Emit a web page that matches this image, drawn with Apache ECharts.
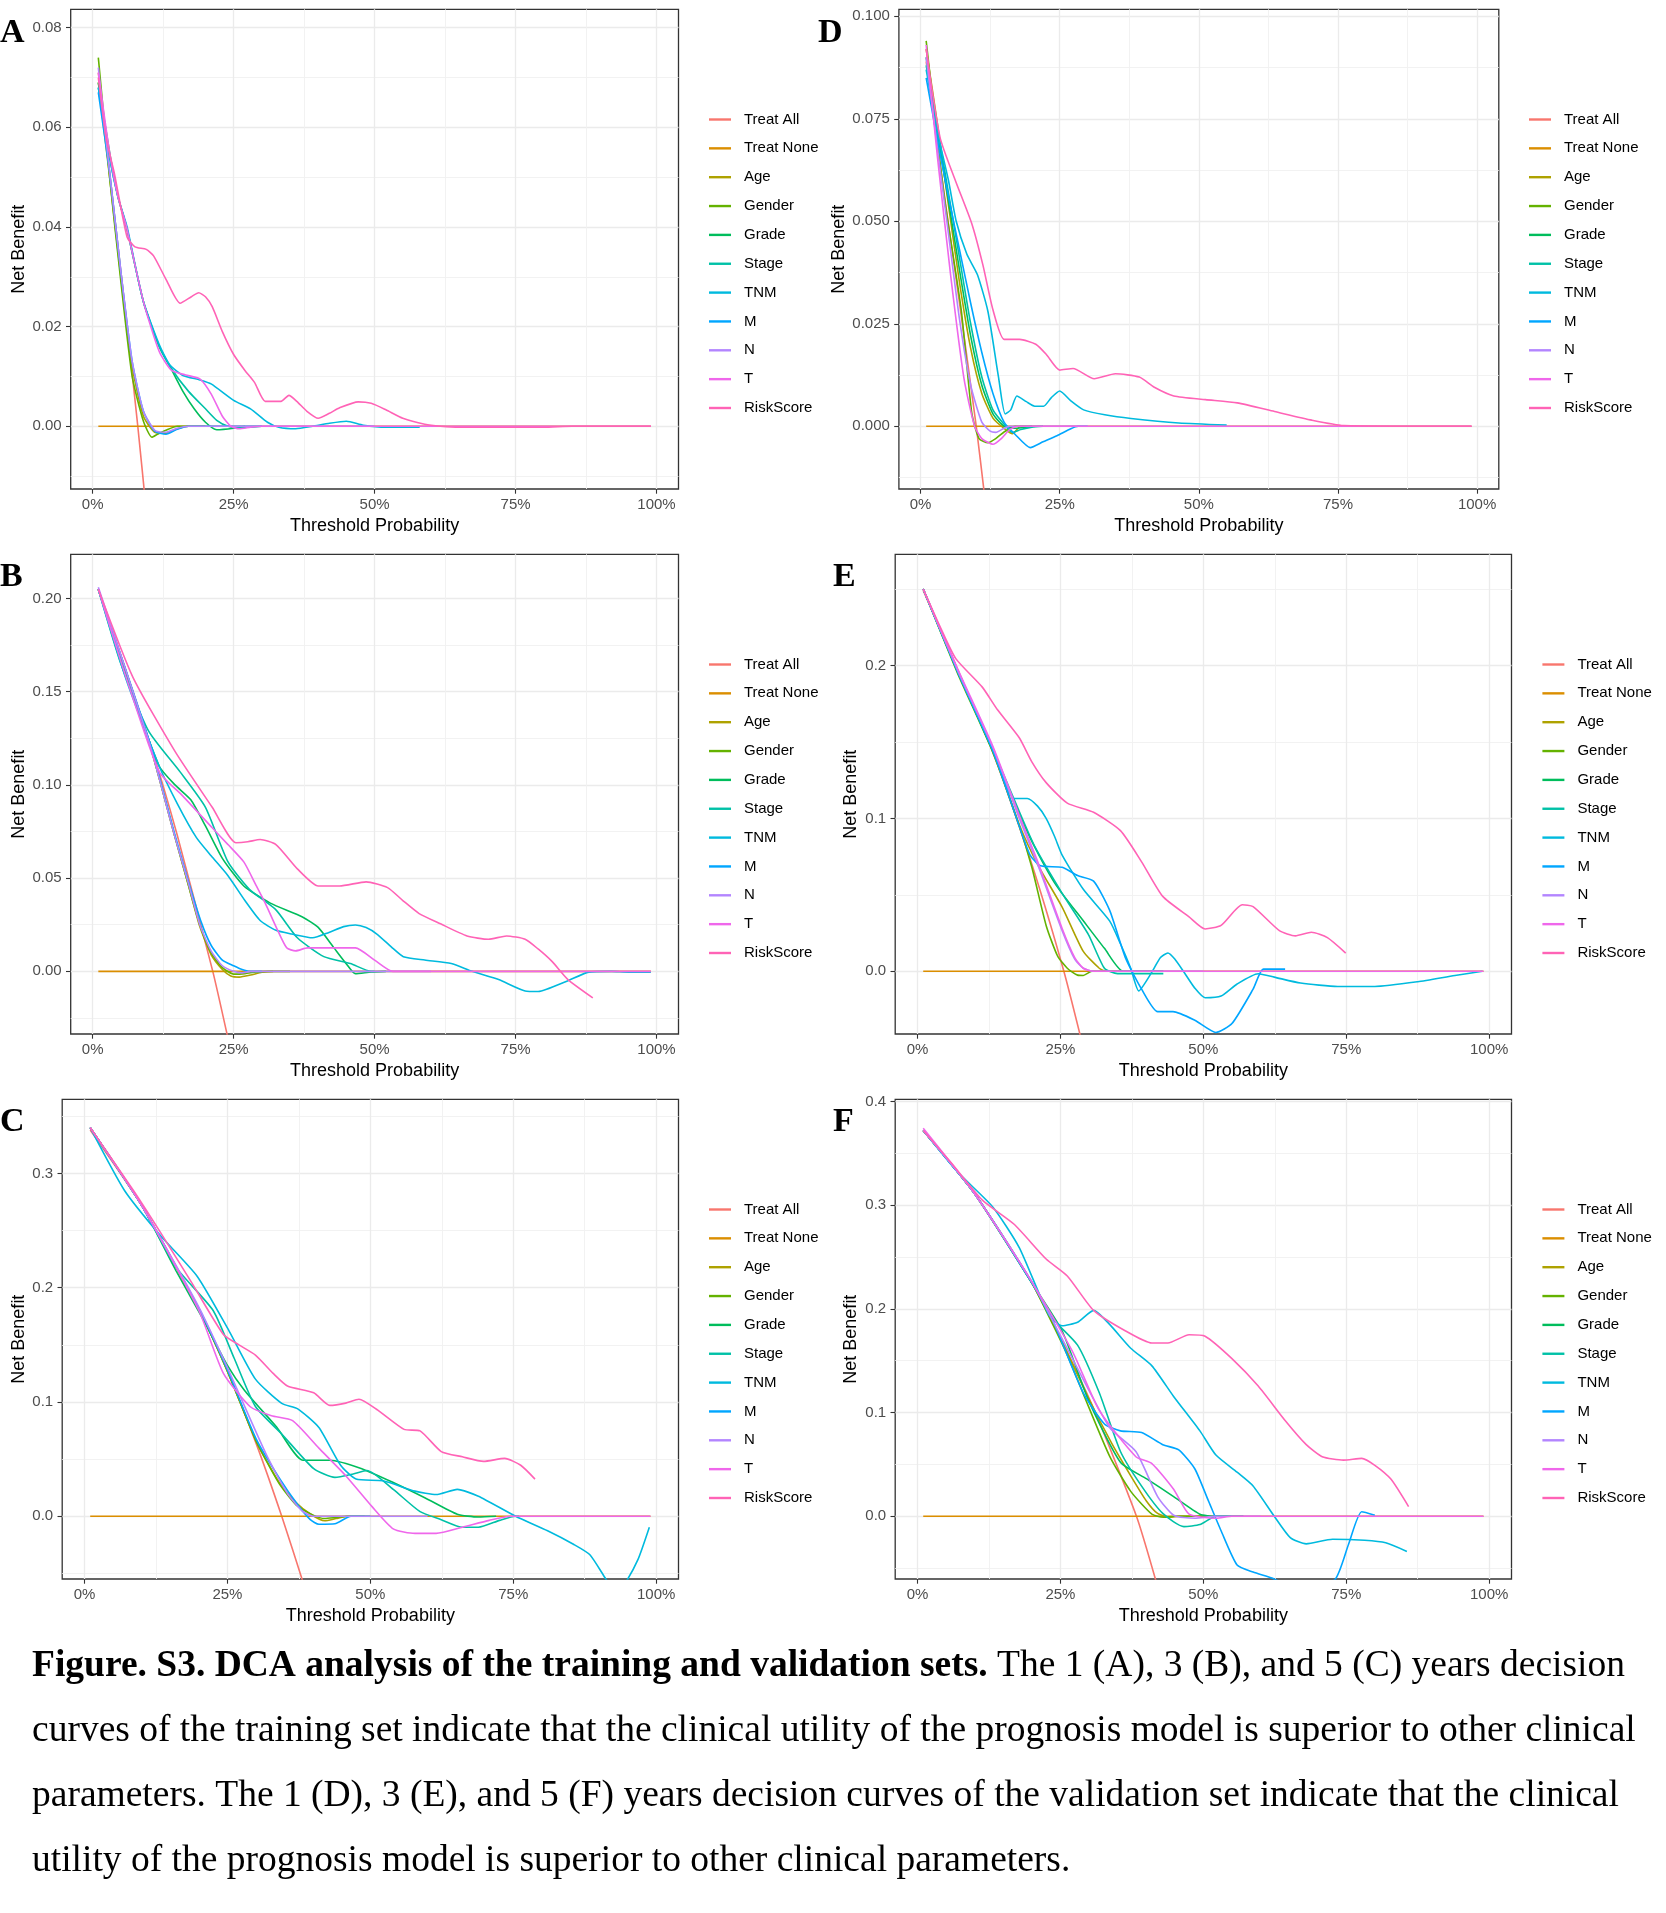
<!DOCTYPE html>
<html>
<head>
<meta charset="utf-8">
<title>Figure S3 - DCA analysis</title>
<script src="https://cdn.jsdelivr.net/npm/echarts@6.0.0/dist/echarts.min.js"></script>
<style>
html, body { margin: 0; padding: 0; background: #fff; }
#chart { width: 1666px; height: 1913px; }
</style>
</head>
<body>
<div id="chart"></div>
<script>
var seriesNames = ['Treat All', 'Treat None', 'Age', 'Gender', 'Grade', 'Stage', 'TNM', 'M', 'N', 'T', 'RiskScore'];
var seriesColors = ['#F8766D', '#DB8E00', '#AEA200', '#64B200', '#00BD5C', '#00C1A7', '#00BADE', '#00A6FF', '#B385FF', '#EF67EB', '#FF63B6'];

var xTicks = [0, 0.25, 0.5, 0.75, 1];
var xMinor = [0.125, 0.375, 0.625, 0.875];
var xRange = [-0.039, 1.039];
var treatNone = [[0.01, 0], [0.99, 0]];

// ---- A : training set, 1 year
var aYRange = [-0.0126, 0.0837];
var aYTicks = [0, 0.02, 0.04, 0.06, 0.08];
var aYMinor = [-0.01, 0.01, 0.03, 0.05, 0.07];
var aTreatAll = [[0.01, 0.071], [0.04, 0.041], [0.06, 0.021], [0.08, 0.0], [0.095, -0.017]];
var aAge = [[0.01, 0.069], [0.03, 0.050], [0.05, 0.030], [0.07, 0.012], [0.09, 0.002], [0.11, -0.0012], [0.13, -0.0014], [0.15, -0.0005], [0.17, 0], [0.2, 0]];
var aGender = [[0.01, 0.074], [0.03, 0.050], [0.05, 0.029], [0.07, 0.010], [0.09, 0.001], [0.105, -0.0022], [0.115, -0.0016], [0.13, -0.0008], [0.15, 0], [0.2, 0]];
var aGrade = [[0.01, 0.069], [0.03, 0.055], [0.045, 0.046], [0.06, 0.040], [0.09, 0.025], [0.118, 0.016], [0.137, 0.012], [0.16, 0.007], [0.18, 0.0035], [0.2, 0.0008], [0.22, -0.0007], [0.25, -0.0004], [0.27, 0]];
var aStage = [[0.01, 0.068], [0.03, 0.054], [0.045, 0.046], [0.06, 0.040], [0.09, 0.025], [0.118, 0.016], [0.14, 0.0115], [0.17, 0.007], [0.2, 0.0035], [0.22, 0.0012], [0.24, 0], [0.26, -0.0003], [0.3, 0]];
var aTnm = [[0.01, 0.068], [0.03, 0.054], [0.045, 0.046], [0.061, 0.040], [0.089, 0.0254], [0.118, 0.0164], [0.137, 0.0123], [0.16, 0.0102], [0.19, 0.0093], [0.21, 0.0085], [0.25, 0.0052], [0.28, 0.0035], [0.31, 0.0008], [0.33, -0.0002], [0.36, -0.0005], [0.39, 0], [0.42, 0.0006], [0.45, 0.001], [0.48, 0.0002], [0.52, -0.0002], [0.58, -0.0002]];
var aM = [[0.01, 0.067], [0.03, 0.051], [0.05, 0.031], [0.07, 0.013], [0.09, 0.003], [0.11, -0.001], [0.13, -0.0016], [0.15, -0.0006], [0.17, 0], [0.3, 0]];
var aN = [[0.01, 0.072], [0.03, 0.051], [0.05, 0.031], [0.07, 0.013], [0.09, 0.003], [0.11, -0.0008], [0.13, -0.0012], [0.15, -0.0004], [0.17, 0], [0.5, 0]];
var aT = [[0.01, 0.071], [0.03, 0.055], [0.045, 0.046], [0.06, 0.040], [0.09, 0.025], [0.118, 0.015], [0.14, 0.0112], [0.165, 0.0103], [0.19, 0.0095], [0.21, 0.0065], [0.23, 0.002], [0.245, 0], [0.26, -0.0005], [0.28, -0.0002], [0.3, 0], [0.99, 0]];
var aRiskScore = [[0.01, 0.070], [0.0235, 0.058], [0.038, 0.051], [0.061, 0.038], [0.075, 0.036], [0.095, 0.0355], [0.108, 0.0342], [0.13, 0.0295], [0.155, 0.0247], [0.175, 0.026], [0.188, 0.0268], [0.2, 0.026], [0.212, 0.024], [0.23, 0.019], [0.25, 0.0144], [0.27, 0.0112], [0.287, 0.0088], [0.306, 0.005], [0.334, 0.005], [0.348, 0.0062], [0.362, 0.005], [0.38, 0.003], [0.4, 0.0016], [0.42, 0.0026], [0.438, 0.0037], [0.471, 0.0049], [0.494, 0.0046], [0.52, 0.0033], [0.55, 0.0016], [0.589, 0.0004], [0.617, 0], [0.65, -0.0002], [0.8, -0.0002], [0.85, 0], [0.99, 0]];

// ---- B : training set, 3 years
var bYRange = [-0.0336, 0.2237];
var bYTicks = [0, 0.05, 0.10, 0.15, 0.20];
var bYMinor = [-0.025, 0.025, 0.075, 0.125, 0.175];
var bTreatAll = [[0.01, 0.205], [0.1, 0.124], [0.15, 0.073], [0.213, 0], [0.24, -0.036]];
var bAge = [[0.01, 0.205], [0.1, 0.123], [0.146, 0.072], [0.17, 0.046], [0.19, 0.024], [0.21, 0.009], [0.23, 0.001], [0.245, -0.0025], [0.26, -0.0031], [0.28, -0.002], [0.3, -0.0005], [0.32, 0]];
var bGender = [[0.01, 0.205], [0.1, 0.123], [0.146, 0.072], [0.17, 0.046], [0.19, 0.025], [0.21, 0.01], [0.23, 0.002], [0.25, -0.0015], [0.27, -0.0012], [0.29, -0.0003], [0.31, 0], [0.35, 0]];
var bGrade = [[0.01, 0.205], [0.06, 0.158], [0.118, 0.11], [0.146, 0.1], [0.174, 0.092], [0.2, 0.078], [0.23, 0.0606], [0.268, 0.0458], [0.315, 0.0366], [0.372, 0.0292], [0.4, 0.0236], [0.428, 0.0126], [0.45, 0.004], [0.466, -0.0013], [0.494, -0.0003], [0.52, 0]];
var bStage = [[0.01, 0.205], [0.05, 0.165], [0.099, 0.129], [0.155, 0.107], [0.2, 0.088], [0.24, 0.0587], [0.278, 0.044], [0.325, 0.033], [0.363, 0.018], [0.41, 0.0079], [0.457, 0.0042], [0.494, 0], [0.5, 0]];
var bTnm = [[0.01, 0.205], [0.06, 0.156], [0.118, 0.11], [0.15, 0.09], [0.184, 0.0717], [0.21, 0.062], [0.24, 0.0513], [0.27, 0.038], [0.297, 0.0273], [0.325, 0.022], [0.353, 0.02], [0.39, 0.018], [0.419, 0.0209], [0.445, 0.024], [0.466, 0.0249], [0.485, 0.0235], [0.504, 0.02], [0.53, 0.013], [0.551, 0.0079], [0.589, 0.0061], [0.636, 0.0042], [0.673, 0], [0.72, -0.0044], [0.767, -0.0105], [0.79, -0.0108], [0.805, -0.0096], [0.843, -0.005], [0.88, -0.0004], [0.92, 0], [0.95, -0.0004], [0.99, -0.0004]];
var bM = [[0.01, 0.205], [0.1, 0.124], [0.146, 0.073], [0.17, 0.048], [0.193, 0.026], [0.21, 0.014], [0.23, 0.006], [0.25, 0.003], [0.265, 0.001], [0.278, 0], [0.3, 0]];
var bN = [[0.01, 0.206], [0.1, 0.123], [0.146, 0.072], [0.17, 0.047], [0.19, 0.025], [0.21, 0.011], [0.23, 0.003], [0.25, 0], [0.265, -0.0008], [0.28, 0], [0.6, 0]];
var bT = [[0.01, 0.205], [0.06, 0.157], [0.118, 0.107], [0.16, 0.094], [0.212, 0.077], [0.24, 0.068], [0.268, 0.0587], [0.29, 0.046], [0.306, 0.0366], [0.325, 0.024], [0.344, 0.0126], [0.36, 0.011], [0.381, 0.0126], [0.466, 0.0126], [0.5, 0.006], [0.532, 0], [0.99, 0]];
var bRiskScore = [[0.01, 0.205], [0.071, 0.158], [0.146, 0.118], [0.212, 0.088], [0.254, 0.069], [0.275, 0.0695], [0.297, 0.0707], [0.325, 0.068], [0.363, 0.055], [0.4, 0.0458], [0.438, 0.0458], [0.485, 0.048], [0.523, 0.0449], [0.55, 0.038], [0.579, 0.031], [0.617, 0.0255], [0.664, 0.019], [0.702, 0.0172], [0.734, 0.019], [0.767, 0.0172], [0.79, 0.012], [0.815, 0.0052], [0.843, -0.0044], [0.887, -0.0142]];

// ---- C : training set, 5 years
var cYRange = [-0.0549, 0.3648];
var cYTicks = [0, 0.1, 0.2, 0.3];
var cYMinor = [-0.05, 0.05, 0.15, 0.25, 0.35];
var cTreatAll = [[0.01, 0.338], [0.1, 0.272], [0.2, 0.181], [0.25, 0.127], [0.3, 0.064], [0.345, 0], [0.385, -0.062]];
var cAge = [[0.01, 0.34], [0.1, 0.272], [0.2, 0.181], [0.25, 0.127], [0.3, 0.066], [0.34, 0.03], [0.37, 0.012], [0.395, 0.002], [0.42, -0.004], [0.44, -0.002], [0.46, 0], [0.5, 0]];
var cGender = [[0.01, 0.34], [0.1, 0.272], [0.2, 0.181], [0.25, 0.127], [0.3, 0.066], [0.34, 0.029], [0.37, 0.01], [0.4, 0.001], [0.42, -0.002], [0.44, -0.001], [0.46, 0], [0.49, 0]];
var cGrade = [[0.01, 0.34], [0.1, 0.272], [0.16, 0.215], [0.21, 0.17], [0.25, 0.132], [0.28, 0.11], [0.336, 0.078], [0.382, 0.049], [0.429, 0.049], [0.485, 0.0416], [0.54, 0.0295], [0.596, 0.016], [0.652, 0.0018], [0.689, -0.0006], [0.72, 0]];
var cStage = [[0.01, 0.34], [0.1, 0.272], [0.16, 0.218], [0.225, 0.18], [0.262, 0.138], [0.299, 0.096], [0.345, 0.072], [0.401, 0.0416], [0.438, 0.034], [0.47, 0.037], [0.494, 0.04], [0.54, 0.0235], [0.587, 0.004], [0.624, -0.003], [0.661, -0.0096], [0.689, -0.0096], [0.726, -0.0036], [0.754, 0], [0.76, 0]];
var cTnm = [[0.01, 0.34], [0.07, 0.285], [0.132, 0.246], [0.197, 0.21], [0.253, 0.162], [0.299, 0.12], [0.345, 0.0988], [0.373, 0.094], [0.41, 0.0777], [0.448, 0.0446], [0.475, 0.0325], [0.522, 0.031], [0.578, 0.022], [0.615, 0.019], [0.652, 0.0235], [0.689, 0.0175], [0.754, 0], [0.81, -0.0127], [0.856, -0.0247], [0.884, -0.0337], [0.912, -0.055], [0.93, -0.068], [0.944, -0.06], [0.968, -0.038], [0.988, -0.0096]];
var cM = [[0.01, 0.34], [0.1, 0.272], [0.2, 0.182], [0.25, 0.128], [0.3, 0.068], [0.34, 0.034], [0.373, 0.01], [0.395, -0.003], [0.41, -0.007], [0.438, -0.0066], [0.466, 0], [0.5, 0]];
var cN = [[0.01, 0.34], [0.1, 0.272], [0.2, 0.183], [0.25, 0.13], [0.29, 0.085], [0.32, 0.052], [0.355, 0.02], [0.38, 0.005], [0.4, 0], [0.6, 0]];
var cT = [[0.01, 0.34], [0.1, 0.272], [0.2, 0.18], [0.243, 0.125], [0.29, 0.0958], [0.327, 0.088], [0.364, 0.0837], [0.41, 0.0596], [0.457, 0.0355], [0.503, 0.0084], [0.54, -0.011], [0.578, -0.015], [0.615, -0.015], [0.661, -0.0096], [0.708, -0.0036], [0.745, 0], [0.99, 0]];
var cRiskScore = [[0.01, 0.34], [0.085, 0.2855], [0.132, 0.249], [0.188, 0.204], [0.243, 0.159], [0.27, 0.15], [0.299, 0.141], [0.33, 0.125], [0.355, 0.114], [0.401, 0.108], [0.429, 0.097], [0.457, 0.099], [0.48, 0.1024], [0.513, 0.0928], [0.559, 0.076], [0.587, 0.0747], [0.624, 0.0566], [0.661, 0.052], [0.698, 0.048], [0.735, 0.0506], [0.763, 0.0446], [0.788, 0.0325]];

// ---- D : validation set, 1 year
var dYRange = [-0.0153, 0.1017];
var dYTicks = [0, 0.025, 0.05, 0.075, 0.1];
var dYMinor = [-0.0125, 0.0125, 0.0375, 0.0625, 0.0875];
var dTreatAll = [[0.01, 0.089], [0.04, 0.059], [0.07, 0.030], [0.1, 0.0], [0.115, -0.017]];
var dAge = [[0.01, 0.092], [0.03, 0.074], [0.05, 0.054], [0.07, 0.035], [0.09, 0.019], [0.11, 0.008], [0.13, 0.002], [0.15, -0.0005], [0.165, -0.0018], [0.18, 0], [0.22, 0]];
var dGender = [[0.01, 0.094], [0.03, 0.070], [0.045, 0.0536], [0.073, 0.0284], [0.092, 0.0032], [0.105, -0.003], [0.121, -0.004], [0.135, -0.003], [0.15, -0.0014], [0.17, 0], [0.2, 0]];
var dGrade = [[0.01, 0.09], [0.03, 0.072], [0.05, 0.055], [0.07, 0.038], [0.09, 0.022], [0.11, 0.01], [0.13, 0.003], [0.15, 0], [0.17, -0.0005], [0.2, 0]];
var dStage = [[0.01, 0.088], [0.03, 0.073], [0.05, 0.057], [0.07, 0.041], [0.09, 0.025], [0.11, 0.012], [0.13, 0.004], [0.15, 0.0005], [0.165, -0.0015], [0.18, -0.0008], [0.2, -0.0002], [0.22, 0]];
var dTnm = [[0.01, 0.087], [0.03, 0.072], [0.05, 0.060], [0.064, 0.050], [0.083, 0.042], [0.102, 0.037], [0.121, 0.028], [0.14, 0.012], [0.152, 0.003], [0.162, 0.004], [0.173, 0.0074], [0.19, 0.006], [0.205, 0.0049], [0.221, 0.0049], [0.235, 0.007], [0.25, 0.0086], [0.27, 0.0062], [0.293, 0.004], [0.331, 0.0028], [0.378, 0.0019], [0.464, 0.0008], [0.55, 0.0003]];
var dM = [[0.01, 0.085], [0.03, 0.07], [0.05, 0.056], [0.07, 0.043], [0.09, 0.03], [0.11, 0.018], [0.13, 0.008], [0.15, 0.001], [0.17, -0.002], [0.197, -0.0052], [0.22, -0.0038], [0.245, -0.0023], [0.27, -0.0006], [0.283, 0], [0.3, 0]];
var dN = [[0.01, 0.09], [0.03, 0.068], [0.05, 0.047], [0.07, 0.026], [0.09, 0.01], [0.11, 0.001], [0.125, -0.0012], [0.135, -0.0015], [0.15, -0.0005], [0.16, 0], [0.3, 0]];
var dT = [[0.01, 0.093], [0.03, 0.066], [0.054, 0.0368], [0.078, 0.0116], [0.097, 0.0], [0.11, -0.003], [0.13, -0.0044], [0.145, -0.003], [0.16, -0.0008], [0.175, 0], [0.99, 0]];
var dRiskScore = [[0.01, 0.092], [0.035, 0.0704], [0.064, 0.0594], [0.092, 0.0494], [0.112, 0.0393], [0.13, 0.0284], [0.15, 0.0212], [0.178, 0.0212], [0.207, 0.02], [0.226, 0.0175], [0.25, 0.0137], [0.274, 0.0141], [0.312, 0.0116], [0.35, 0.0128], [0.393, 0.012], [0.42, 0.0095], [0.455, 0.0074], [0.512, 0.0065], [0.569, 0.0057], [0.636, 0.0036], [0.703, 0.0015], [0.76, 0.0002], [0.99, 0]];

// ---- E : validation set, 3 years
var eYRange = [-0.041, 0.2727];
var eYTicks = [0, 0.1, 0.2];
var eYMinor = [0.05, 0.15, 0.25];
var eTreatAll = [[0.01, 0.249], [0.132, 0.143], [0.2, 0.07], [0.256, 0], [0.29, -0.05]];
var eAge = [[0.01, 0.25], [0.07, 0.196], [0.132, 0.144], [0.178, 0.096], [0.21, 0.07], [0.253, 0.042], [0.29, 0.013], [0.318, 0.002], [0.33, 0], [0.36, 0]];
var eGender = [[0.01, 0.25], [0.07, 0.195], [0.132, 0.143], [0.178, 0.095], [0.2, 0.068], [0.225, 0.03], [0.245, 0.01], [0.262, 0.002], [0.28, -0.0025], [0.29, -0.0027], [0.305, 0], [0.43, 0]];
var eGrade = [[0.01, 0.25], [0.07, 0.196], [0.132, 0.144], [0.17, 0.11], [0.2, 0.085], [0.243, 0.056], [0.29, 0.033], [0.327, 0.015], [0.36, 0], [0.43, 0]];
var eStage = [[0.01, 0.25], [0.07, 0.197], [0.132, 0.145], [0.174, 0.108], [0.206, 0.081], [0.253, 0.051], [0.299, 0.024], [0.327, 0.002], [0.35, -0.0015], [0.4, -0.0015], [0.43, -0.0015]];
var eTnm = [[0.01, 0.25], [0.07, 0.197], [0.132, 0.145], [0.169, 0.113], [0.192, 0.113], [0.21, 0.108], [0.225, 0.1], [0.24, 0.088], [0.253, 0.076], [0.29, 0.0536], [0.336, 0.033], [0.355, 0.018], [0.373, 0.002], [0.387, -0.0128], [0.41, -0.0005], [0.425, 0.009], [0.438, 0.012], [0.45, 0.008], [0.466, -0.0005], [0.485, -0.011], [0.503, -0.0173], [0.531, -0.0162], [0.559, -0.0083], [0.596, -0.0016], [0.624, -0.0038], [0.67, -0.0077], [0.735, -0.0099], [0.8, -0.0099], [0.875, -0.0068], [0.94, -0.0027], [0.988, 0]];
var eM = [[0.01, 0.25], [0.07, 0.196], [0.132, 0.144], [0.178, 0.095], [0.197, 0.076], [0.215, 0.069], [0.253, 0.068], [0.28, 0.0626], [0.308, 0.059], [0.336, 0.04], [0.364, 0.0086], [0.392, -0.0117], [0.42, -0.0264], [0.447, -0.0264], [0.485, -0.032], [0.522, -0.04], [0.55, -0.0342], [0.587, -0.0117], [0.605, 0.0014], [0.643, 0.0014]];
var eN = [[0.01, 0.25], [0.07, 0.197], [0.132, 0.146], [0.178, 0.1], [0.21, 0.07], [0.253, 0.0266], [0.275, 0.008], [0.29, 0.002], [0.308, 0], [0.5, 0]];
var eT = [[0.01, 0.25], [0.07, 0.198], [0.132, 0.147], [0.178, 0.102], [0.21, 0.072], [0.253, 0.028], [0.275, 0.009], [0.29, 0.002], [0.308, 0], [0.99, 0]];
var eRiskScore = [[0.01, 0.25], [0.04, 0.225], [0.067, 0.2045], [0.113, 0.186], [0.14, 0.171], [0.178, 0.1527], [0.2, 0.137], [0.225, 0.1234], [0.262, 0.11], [0.308, 0.104], [0.355, 0.092], [0.392, 0.0716], [0.429, 0.049], [0.475, 0.0356], [0.503, 0.0277], [0.531, 0.03], [0.568, 0.0435], [0.587, 0.0423], [0.633, 0.0266], [0.661, 0.0232], [0.689, 0.0255], [0.717, 0.022], [0.749, 0.0119]];

// ---- F : validation set, 5 years
var fYRange = [-0.0605, 0.402];
var fYTicks = [0, 0.1, 0.2, 0.3, 0.4];
var fYMinor = [-0.05, 0.05, 0.15, 0.25, 0.35];
var fTreatAll = [[0.01, 0.372], [0.1, 0.311], [0.2, 0.225], [0.3, 0.114], [0.383, 0], [0.42, -0.068]];
var fAge = [[0.01, 0.372], [0.1, 0.311], [0.2, 0.225], [0.25, 0.172], [0.299, 0.114], [0.34, 0.07], [0.373, 0.039], [0.4, 0.015], [0.42, 0.0027], [0.44, -0.001], [0.46, 0], [0.5, 0]];
var fGender = [[0.01, 0.372], [0.1, 0.311], [0.2, 0.225], [0.225, 0.198], [0.26, 0.158], [0.29, 0.118], [0.336, 0.058], [0.373, 0.024], [0.41, 0.002], [0.43, -0.001], [0.45, 0], [0.57, 0]];
var fGrade = [[0.01, 0.372], [0.1, 0.311], [0.2, 0.225], [0.253, 0.1786], [0.299, 0.112], [0.355, 0.052], [0.401, 0.036], [0.448, 0.019], [0.494, 0.002], [0.52, 0], [0.57, 0]];
var fStage = [[0.01, 0.372], [0.1, 0.311], [0.2, 0.226], [0.234, 0.192], [0.28, 0.165], [0.318, 0.119], [0.355, 0.0624], [0.392, 0.029], [0.429, 0.0027], [0.466, -0.01], [0.494, -0.008], [0.522, 0], [0.55, 0]];
var fTnm = [[0.01, 0.372], [0.07, 0.332], [0.132, 0.298], [0.178, 0.259], [0.229, 0.195], [0.253, 0.1836], [0.28, 0.187], [0.308, 0.1985], [0.336, 0.185], [0.373, 0.162], [0.41, 0.145], [0.448, 0.1155], [0.494, 0.0823], [0.522, 0.059], [0.559, 0.0425], [0.587, 0.0292], [0.624, 0], [0.652, -0.0206], [0.68, -0.0266], [0.726, -0.0222], [0.782, -0.0232], [0.819, -0.0256], [0.856, -0.0339]];
var fM = [[0.01, 0.372], [0.1, 0.311], [0.2, 0.225], [0.234, 0.192], [0.29, 0.119], [0.327, 0.089], [0.355, 0.0823], [0.392, 0.0807], [0.429, 0.069], [0.457, 0.064], [0.485, 0.0458], [0.508, 0.016], [0.531, -0.014], [0.559, -0.047], [0.587, -0.0538], [0.624, -0.0604], [0.68, -0.075], [0.731, -0.0604], [0.754, -0.027], [0.777, 0.0043], [0.8, 0.001]];
var fN = [[0.01, 0.372], [0.1, 0.311], [0.2, 0.226], [0.271, 0.152], [0.336, 0.0856], [0.382, 0.0624], [0.42, 0.019], [0.448, 0.001], [0.485, -0.002], [0.52, 0], [0.6, 0]];
var fT = [[0.01, 0.374], [0.1, 0.311], [0.2, 0.226], [0.271, 0.159], [0.318, 0.102], [0.382, 0.0574], [0.41, 0.0508], [0.448, 0.026], [0.475, 0.002], [0.522, -0.002], [0.55, 0], [0.99, 0]];
var fRiskScore = [[0.01, 0.372], [0.06, 0.34], [0.113, 0.305], [0.169, 0.2815], [0.225, 0.248], [0.262, 0.2317], [0.308, 0.1985], [0.364, 0.1786], [0.41, 0.167], [0.438, 0.167], [0.475, 0.175], [0.503, 0.1736], [0.55, 0.152], [0.596, 0.1255], [0.643, 0.0923], [0.68, 0.069], [0.708, 0.0574], [0.745, 0.0541], [0.777, 0.0558], [0.8, 0.0491], [0.828, 0.0358], [0.859, 0.0093]];

var captionLines = [
    '{b|Figure. S3. DCA analysis of the training and validation sets.} The 1 (A), 3 (B), and 5 (C) years decision',
    'curves of the training set indicate that the clinical utility of the prognosis model is superior to other clinical',
    'parameters. The 1 (D), 3 (E), and 5 (F) years decision curves of the validation set indicate that the clinical',
    'utility of the prognosis model is superior to other clinical parameters.'
];

var sans = "'Liberation Sans', Arial, sans-serif";
var serif = "'Liberation Serif', 'Times New Roman', serif";

// 面板布局：box = [left, top, width, height]
var panels = [
    {id: 'A', lines: [aTreatAll, treatNone, aAge, aGender, aGrade, aStage, aTnm, aM, aN, aT, aRiskScore],
     yRange: aYRange, yTicks: aYTicks, yMinor: aYMinor, digits: 2,
     box: [70.7, 9.3, 607.8, 479.7], nameGap: 43, legendPos: [709, 112], letterPos: [0, 33]},
    {id: 'B', lines: [bTreatAll, treatNone, bAge, bGender, bGrade, bStage, bTnm, bM, bN, bT, bRiskScore],
     yRange: bYRange, yTicks: bYTicks, yMinor: bYMinor, digits: 2,
     box: [70.7, 554.3, 607.8, 479.7], nameGap: 43, legendPos: [709, 657], letterPos: [0, 577.5]},
    {id: 'C', lines: [cTreatAll, treatNone, cAge, cGender, cGrade, cStage, cTnm, cM, cN, cT, cRiskScore],
     yRange: cYRange, yTicks: cYTicks, yMinor: cYMinor, digits: 1,
     box: [62.2, 1099.3, 616.3, 479.7], nameGap: 34.6, legendPos: [709, 1202], letterPos: [0, 1122.5]},
    {id: 'D', lines: [dTreatAll, treatNone, dAge, dGender, dGrade, dStage, dTnm, dM, dN, dT, dRiskScore],
     yRange: dYRange, yTicks: dYTicks, yMinor: dYMinor, digits: 3,
     box: [898.9, 9.3, 599.9, 479.7], nameGap: 50, legendPos: [1529, 112], letterPos: [818, 33]},
    {id: 'E', lines: [eTreatAll, treatNone, eAge, eGender, eGrade, eStage, eTnm, eM, eN, eT, eRiskScore],
     yRange: eYRange, yTicks: eYTicks, yMinor: eYMinor, digits: 1,
     box: [895.2, 554.3, 616.3, 479.7], nameGap: 34.7, legendPos: [1542.4, 657], letterPos: [833, 577.5]},
    {id: 'F', lines: [fTreatAll, treatNone, fAge, fGender, fGrade, fStage, fTnm, fM, fN, fT, fRiskScore],
     yRange: fYRange, yTicks: fYTicks, yMinor: fYMinor, digits: 1,
     box: [895.2, 1099.3, 616.3, 479.7], nameGap: 34.7, legendPos: [1542.4, 1202], letterPos: [833, 1122.5]}
];

var grids = [], xAxes = [], yAxes = [], series = [], legends = [], graphics = [];

panels.forEach(function (p, i) {
    grids.push({
        left: p.box[0], top: p.box[1], width: p.box[2], height: p.box[3],
        show: true, borderColor: '#333333', borderWidth: 1.3, backgroundColor: 'transparent'
    });

    // 主刻度轴
    xAxes.push({
        type: 'value', gridIndex: i, min: xRange[0], max: xRange[1],
        axisLine: {show: false, onZero: false},
        axisTick: {show: true, length: 4.7, customValues: xTicks, lineStyle: {color: '#333333', width: 1.1}},
        axisLabel: {customValues: xTicks, margin: 8, color: '#4D4D4D', fontSize: 15, fontFamily: sans,
            formatter: function (v) { return Math.round(v * 100) + '%'; }},
        splitLine: {show: true, lineStyle: {color: '#EBEBEB', width: 1.3}},
        name: 'Threshold Probability', nameLocation: 'middle', nameGap: 28,
        nameTextStyle: {fontSize: 18, color: '#000', fontFamily: sans}
    });
    // 次网格线
    xAxes.push({
        type: 'value', gridIndex: i, min: xRange[0], max: xRange[1],
        axisLine: {show: false, onZero: false},
        axisTick: {show: false, customValues: xMinor},
        axisLabel: {show: false},
        splitLine: {show: true, lineStyle: {color: '#F0F0F0', width: 0.9}}
    });

    yAxes.push({
        type: 'value', gridIndex: i, min: p.yRange[0], max: p.yRange[1],
        axisLine: {show: false, onZero: false},
        axisTick: {show: true, length: 4.7, customValues: p.yTicks, lineStyle: {color: '#333333', width: 1.1}},
        axisLabel: {customValues: p.yTicks, margin: 9, color: '#4D4D4D', fontSize: 15, fontFamily: sans,
            formatter: (function (d) { return function (v) { return v.toFixed(d); }; })(p.digits)},
        splitLine: {show: true, lineStyle: {color: '#EBEBEB', width: 1.3}},
        name: 'Net Benefit', nameLocation: 'middle', nameGap: p.nameGap,
        nameTextStyle: {fontSize: 18, color: '#000', fontFamily: sans}
    });
    yAxes.push({
        type: 'value', gridIndex: i, min: p.yRange[0], max: p.yRange[1], position: 'left',
        axisLine: {show: false, onZero: false},
        axisTick: {show: false, customValues: p.yMinor},
        axisLabel: {show: false},
        splitLine: {show: true, lineStyle: {color: '#F0F0F0', width: 0.9}}
    });

    p.lines.forEach(function (d, k) {
        series.push({
            type: 'line', name: seriesNames[k], xAxisIndex: 2 * i, yAxisIndex: 2 * i,
            data: d, symbol: 'none', showSymbol: false, smooth: 0.2,
            lineStyle: {color: seriesColors[k], width: 1.6},
            itemStyle: {color: seriesColors[k]},
            silent: true
        });
    });

    legends.push({
        orient: 'vertical', left: p.legendPos[0], top: p.legendPos[1], padding: 0,
        itemWidth: 22, itemHeight: 2.4, itemGap: 13.85, icon: 'rect',
        selectedMode: false, data: seriesNames,
        textStyle: {fontSize: 15, color: '#000', fontFamily: sans, lineHeight: 15, padding: [0, 0, 0, 8]}
    });

    graphics.push({
        type: 'text', x: p.letterPos[0], y: p.letterPos[1], silent: true,
        style: {text: p.id, font: 'bold 34px ' + serif, fill: '#000', align: 'left', verticalAlign: 'middle'}
    });
});

var captionY = [1666, 1731, 1796, 1861];
captionLines.forEach(function (t, i) {
    graphics.push({
        type: 'text', x: 32, y: captionY[i], silent: true,
        style: {
            text: t, font: '37.5px ' + serif, fill: '#000', align: 'left', verticalAlign: 'middle',
            rich: {b: {font: 'bold 37.5px ' + serif, fill: '#000'}}
        }
    });
});

var myChart = echarts.init(document.getElementById('chart'), null, {renderer: 'canvas'});
myChart.setOption({
    animation: false,
    backgroundColor: '#ffffff',
    grid: grids,
    xAxis: xAxes,
    yAxis: yAxes,
    legend: legends,
    series: series,
    graphic: graphics
});
</script>
</body>
</html>
